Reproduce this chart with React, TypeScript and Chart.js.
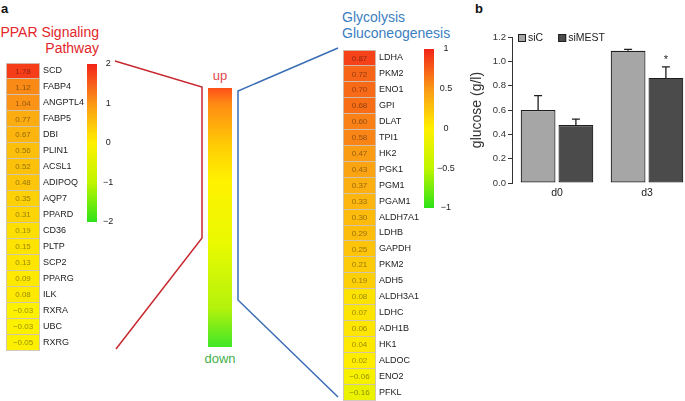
import React, { useEffect, useRef } from 'react';
import { Chart, registerables } from 'chart.js';

Chart.register(...registerables);
const FONT = '"Liberation Sans", Arial, Helvetica, sans-serif';
Chart.defaults.font.family = FONT;

// ---------- data ----------
const pparGenes = ['SCD', 'FABP4', 'ANGPTL4', 'FABP5', 'DBI', 'PLIN1', 'ACSL1', 'ADIPOQ', 'AQP7', 'PPARD', 'CD36', 'PLTP', 'SCP2', 'PPARG', 'ILK', 'RXRA', 'UBC', 'RXRG'];
const pparValues = [1.78, 1.12, 1.04, 0.77, 0.67, 0.56, 0.52, 0.48, 0.35, 0.31, 0.19, 0.15, 0.13, 0.09, 0.08, -0.03, -0.03, -0.05];
const pparRange = 2;
const pparScaleTicks = [2, 1, 0, -1, -2];

const glyGenes = ['LDHA', 'PKM2', 'ENO1', 'GPI', 'DLAT', 'TPI1', 'HK2', 'PGK1', 'PGM1', 'PGAM1', 'ALDH7A1', 'LDHB', 'GAPDH', 'PKM2', 'ADH5', 'ALDH3A1', 'LDHC', 'ADH1B', 'HK1', 'ALDOC', 'ENO2', 'PFKL'];
const glyValues = [0.87, 0.72, 0.70, 0.68, 0.60, 0.58, 0.47, 0.43, 0.37, 0.33, 0.30, 0.29, 0.25, 0.21, 0.19, 0.08, 0.07, 0.06, 0.04, 0.02, -0.06, -0.16];
const glyRange = 1;
const glyScaleTicks = [1, 0.5, 0, -0.5, -1];

const days = ['d0', 'd3'];
const siCMean = [0.60, 1.087];
const siCErr = [0.118, 0.012];
const siCMarks = ['', ''];
const siMESTMean = [0.477, 0.864];
const siMESTErr = [0.048, 0.09];
const siMESTMarks = ['', '*'];
const glucoseTicks = [0, 0.2, 0.4, 0.6, 0.8, 1.0, 1.2];

// ---------- helpers ----------
type RGB = [number, number, number];
const HEAT_STOPS: [number, RGB][] = [
  [-1, [45, 226, 25]],
  [-0.5, [192, 245, 0]],
  [0, [255, 240, 0]],
  [0.5, [250, 152, 22]],
  [1, [243, 36, 26]],
];
function heat(v: number, max: number): RGB {
  const t = Math.max(-1, Math.min(1, v / max));
  for (let i = 0; i < HEAT_STOPS.length - 1; i++) {
    const [t0, c0] = HEAT_STOPS[i];
    const [t1, c1] = HEAT_STOPS[i + 1];
    if (t >= t0 && t <= t1) {
      const f = (t - t0) / (t1 - t0);
      return [0, 1, 2].map((k) => c0[k] + (c1[k] - c0[k]) * f) as RGB;
    }
  }
  return HEAT_STOPS[HEAT_STOPS.length - 1][1];
}
const rgb = (c: RGB | number[], k = 1) => `rgb(${Math.round(c[0] * k)},${Math.round(c[1] * k)},${Math.round(c[2] * k)})`;
const minus = (s: string) => s.replace('-', '\u2212');
const fmtVal = (v: number) => minus(v.toFixed(2));
const fmtTick = (v: number) => minus(String(v));
const SEP = 'rgba(205,195,185,0.9)';

// ---------- heatmap ----------
function Heatmap(props: { genes: string[]; values: number[]; max: number; left: number; top: number; rowH: number; cellW: number; labelW: number }) {
  const { genes, values, max, left, top, rowH, cellW, labelW } = props;
  const ref = useRef<HTMLCanvasElement>(null);
  const pad = 10;
  const w = cellW + labelW;
  const h = Math.round(genes.length * rowH) + 2 * pad;
  useEffect(() => {
    const cellText = {
      id: 'cellText',
      afterDatasetsDraw(chart: any) {
        const ctx = chart.ctx;
        const meta = chart.getDatasetMeta(0);
        ctx.save();
        ctx.font = `8px ${FONT}`;
        ctx.textAlign = 'center';
        ctx.textBaseline = 'middle';
        meta.data.forEach((el: any, i: number) => {
          ctx.fillStyle = rgb(heat(values[i], max), 0.6);
          ctx.fillText(fmtVal(values[i]), (el.x + el.base) / 2, el.y + 0.5);
        });
        ctx.restore();
      },
      afterDraw(chart: any) {
        const { ctx, chartArea: a } = chart;
        ctx.save();
        ctx.strokeStyle = SEP;
        ctx.lineWidth = 1;
        ctx.beginPath();
        ctx.moveTo(a.left + 0.5, a.top);
        ctx.lineTo(a.left + 0.5, a.bottom);
        ctx.moveTo(a.right - 0.5, a.top);
        ctx.lineTo(a.right - 0.5, a.bottom);
        ctx.stroke();
        ctx.restore();
      },
    };
    const chart = new Chart(ref.current!, {
      type: 'bar',
      data: {
        labels: genes,
        datasets: [{
          data: values.map(() => [0, 1]) as any,
          backgroundColor: values.map((v) => rgb(heat(v, max))),
          borderWidth: 0,
          barPercentage: 1,
          categoryPercentage: 1,
        }],
      },
      options: {
        responsive: false,
        animation: false,
        indexAxis: 'y',
        layout: { padding: { top: pad, bottom: pad, left: 0, right: 0 } },
        plugins: { legend: { display: false }, tooltip: { enabled: false } },
        scales: {
          x: { display: false, min: 0, max: 1 },
          y: {
            position: 'right',
            offset: true,
            grid: { display: true, offset: true, drawTicks: false, color: SEP, lineWidth: 1, z: 1 } as any,
            border: { display: false },
            ticks: { padding: 3, color: '#1a1a1a', font: { size: 9 }, autoSkip: false },
            afterFit: (s: any) => { s.width = labelW; s.paddingTop = 0; s.paddingBottom = 0; },
          },
        },
      } as any,
      plugins: [cellText],
    });
    return () => chart.destroy();
  }, []);
  return <canvas ref={ref} width={w} height={h} style={{ position: 'absolute', left, top: top - pad, width: w, height: h }} />;
}

// ---------- colour bar ----------
function ColorBar(props: { max: number; ticks: number[]; left: number; top: number; barW: number; barH: number; labelW: number; labelPad: number }) {
  const { max, ticks, left, top, barW, barH, labelW, labelPad } = props;
  const ref = useRef<HTMLCanvasElement>(null);
  const pad = 10;
  const w = barW + labelW;
  const h = barH + 2 * pad;
  useEffect(() => {
    const chart = new Chart(ref.current!, {
      type: 'bar',
      data: {
        labels: [''],
        datasets: [{
          data: [[-max, max]] as any,
          backgroundColor: (c: any) => {
            const ch = c.chart;
            const ys = ch.scales && ch.scales.y;
            if (!ys || !ch.chartArea) return 'rgba(0,0,0,0)';
            const y0 = ys.getPixelForValue(max);
            const y1 = ys.getPixelForValue(-max);
            const g = ch.ctx.createLinearGradient(0, y0, 0, y1);
            HEAT_STOPS.forEach(([t, col]) => g.addColorStop((1 - t) / 2, rgb(col)));
            return g;
          },
          borderWidth: 0,
          barPercentage: 1,
          categoryPercentage: 1,
        }],
      },
      options: {
        responsive: false,
        animation: false,
        layout: { padding: { top: pad, bottom: pad, left: 0, right: 0 } },
        plugins: { legend: { display: false }, tooltip: { enabled: false } },
        scales: {
          x: { display: false },
          y: {
            position: 'right',
            min: -max,
            max,
            grid: { display: false, drawTicks: false },
            border: { display: false },
            ticks: { padding: labelPad, crossAlign: 'center', color: '#1a1a1a', font: { size: 9 }, callback: (v: any) => fmtTick(Number(v)) },
            afterBuildTicks: (s: any) => { s.ticks = ticks.map((v) => ({ value: v })); },
            afterFit: (s: any) => { s.width = labelW; s.paddingTop = 0; s.paddingBottom = 0; },
          },
        },
      } as any,
    });
    return () => chart.destroy();
  }, []);
  return <canvas ref={ref} width={w} height={h} style={{ position: 'absolute', left, top: top - pad, width: w, height: h }} />;
}

// ---------- glucose bar chart ----------
function GlucoseChart() {
  const ref = useRef<HTMLCanvasElement>(null);
  const left = 466, top = 27, w = 230, h = 190;
  useEffect(() => {
    const errorBars = {
      id: 'errorBars',
      afterDatasetsDraw(chart: any) {
        const { ctx } = chart;
        const ys = chart.scales.y;
        ctx.save();
        ctx.strokeStyle = '#1e1e1e';
        ctx.fillStyle = '#1e1e1e';
        ctx.lineWidth = 1.3;
        chart.data.datasets.forEach((ds: any, i: number) => {
          const meta = chart.getDatasetMeta(i);
          meta.data.forEach((bar: any, j: number) => {
            const yTop = ys.getPixelForValue(ds.data[j] + ds.errors[j]);
            ctx.beginPath();
            ctx.moveTo(bar.x, bar.y);
            ctx.lineTo(bar.x, yTop);
            ctx.moveTo(bar.x - 4, yTop);
            ctx.lineTo(bar.x + 4, yTop);
            ctx.stroke();
            if (ds.marks[j]) {
              ctx.font = `11px ${FONT}`;
              ctx.textAlign = 'center';
              ctx.textBaseline = 'bottom';
              ctx.fillText(ds.marks[j], bar.x, yTop - 1);
            }
          });
        });
        ctx.restore();
      },
    };
    const legendPlugin = {
      id: 'customLegend',
      afterDraw(chart: any) {
        const { ctx, chartArea: a } = chart;
        let x = a.left + 6;
        const y = a.top + 1;
        ctx.save();
        ctx.font = `10.5px ${FONT}`;
        ctx.textBaseline = 'middle';
        ctx.textAlign = 'left';
        chart.data.datasets.forEach((ds: any) => {
          ctx.fillStyle = ds.backgroundColor;
          ctx.fillRect(x, y - 4, 8, 8);
          ctx.strokeStyle = '#1e1e1e';
          ctx.lineWidth = 1;
          ctx.strokeRect(x + 0.5, y - 4 + 0.5, 7, 7);
          ctx.fillStyle = '#222';
          ctx.fillText(ds.label, x + 10, y + 0.5);
          x += 10 + ctx.measureText(ds.label).width + 15;
        });
        ctx.restore();
      },
    };
    const chart = new Chart(ref.current!, {
      type: 'bar',
      data: {
        labels: days,
        datasets: [
          { label: 'siC', data: siCMean, errors: siCErr, marks: siCMarks, backgroundColor: '#a6a6a6', borderColor: '#1e1e1e', borderWidth: 1.2, borderSkipped: false, barPercentage: 0.92, categoryPercentage: 0.84 } as any,
          { label: 'siMEST', data: siMESTMean, errors: siMESTErr, marks: siMESTMarks, backgroundColor: '#4b4b4b', borderColor: '#1e1e1e', borderWidth: 1.2, borderSkipped: false, barPercentage: 0.92, categoryPercentage: 0.84 } as any,
        ],
      },
      options: {
        responsive: false,
        animation: false,
        layout: { padding: { top: 10, right: 4, left: 0, bottom: 12 } },
        plugins: { legend: { display: false }, tooltip: { enabled: false } },
        scales: {
          x: {
            grid: { display: false, drawTicks: false },
            border: { display: false },
            ticks: { padding: 4, color: '#222', font: { size: 10.5 } },
            afterFit: (s: any) => { s.height = 22; s.paddingLeft = 0; s.paddingRight = 0; },
          },
          y: {
            min: 0,
            max: 1.2,
            grid: { drawOnChartArea: false, drawTicks: true, tickLength: 4, color: '#333' },
            border: { display: true, color: '#333', width: 1 },
            ticks: { padding: 2, color: '#333', font: { size: 9.5 }, callback: (v: any) => Number(v).toFixed(1) },
            afterBuildTicks: (s: any) => { s.ticks = glucoseTicks.map((v) => ({ value: v })); },
            title: { display: true, text: 'glucose (g/l)', color: '#333', font: { size: 14 }, padding: { top: 3, bottom: 0 } },
            afterFit: (s: any) => { s.width = 46; s.paddingTop = 0; s.paddingBottom = 0; },
          },
        },
      } as any,
      plugins: [errorBars, legendPlugin],
    });
    return () => chart.destroy();
  }, []);
  return <canvas ref={ref} width={w} height={h} style={{ position: 'absolute', left, top, width: w, height: h }} />;
}

// ---------- app ----------
export default function App() {
  const abs = (o: any): React.CSSProperties => ({ position: 'absolute', whiteSpace: 'nowrap', ...o });
  return (
    <div style={{ position: 'fixed', left: 0, top: 0, width: 685, height: 401, overflow: 'hidden', background: '#fff', fontFamily: FONT }}>
      <svg width={685} height={401} style={{ position: 'absolute', left: 0, top: 0 }}>
        <defs>
          <linearGradient id="updown" x1="0" y1="0" x2="0" y2="1">
            <stop offset="0" stopColor="#ff4f1a" />
            <stop offset="0.06" stopColor="#ff8a14" />
            <stop offset="0.22" stopColor="#ffcc05" />
            <stop offset="0.36" stopColor="#fff200" />
            <stop offset="0.6" stopColor="#eafa00" />
            <stop offset="0.85" stopColor="#b4f20c" />
            <stop offset="1" stopColor="#40e628" />
          </linearGradient>
        </defs>
        <rect x={208} y={88} width={24} height={259} fill="url(#updown)" />
        <polyline points="115,61 202,87 202,238 116,349" fill="none" stroke="#c7282e" strokeWidth={1.5} />
        <polyline points="338,48 238,91 238,300 338,397" fill="none" stroke="#3a6db5" strokeWidth={1.5} />
      </svg>

      <div style={abs({ left: 1, top: 2, fontSize: 13, lineHeight: '13px', fontWeight: 'bold', color: '#111' })}>a</div>
      <div style={abs({ left: 475, top: 2, fontSize: 13, lineHeight: '13px', fontWeight: 'bold', color: '#111' })}>b</div>

      <div style={abs({ right: 685 - 99, top: 24, fontSize: 14, lineHeight: '16px', color: '#e3262b', textAlign: 'right' })}>
        PPAR Signaling<br />Pathway
      </div>
      <div style={abs({ left: 342, top: 9, fontSize: 14, lineHeight: '16px', color: '#3b7ec1', textAlign: 'left' })}>
        Glycolysis<br />Gluconeogenesis
      </div>

      <div style={abs({ left: 200, width: 40, top: 69, fontSize: 13, lineHeight: '13px', color: '#e0474c', textAlign: 'center' })}>up</div>
      <div style={abs({ left: 195, width: 50, top: 352, fontSize: 13, lineHeight: '13px', color: '#45b04a', textAlign: 'center' })}>down</div>

      <Heatmap genes={pparGenes} values={pparValues} max={pparRange} left={6} top={63} rowH={15.95} cellW={34} labelW={50} />
      <ColorBar max={pparRange} ticks={pparScaleTicks} left={87} top={64} barW={10} barH={158} labelW={26} labelPad={6} />

      <Heatmap genes={glyGenes} values={glyValues} max={glyRange} left={343} top={50} rowH={15.9} cellW={33} labelW={55} />
      <ColorBar max={glyRange} ticks={glyScaleTicks} left={424} top={49} barW={10} barH={159} labelW={30} labelPad={3} />

      <GlucoseChart />
    </div>
  );
}
